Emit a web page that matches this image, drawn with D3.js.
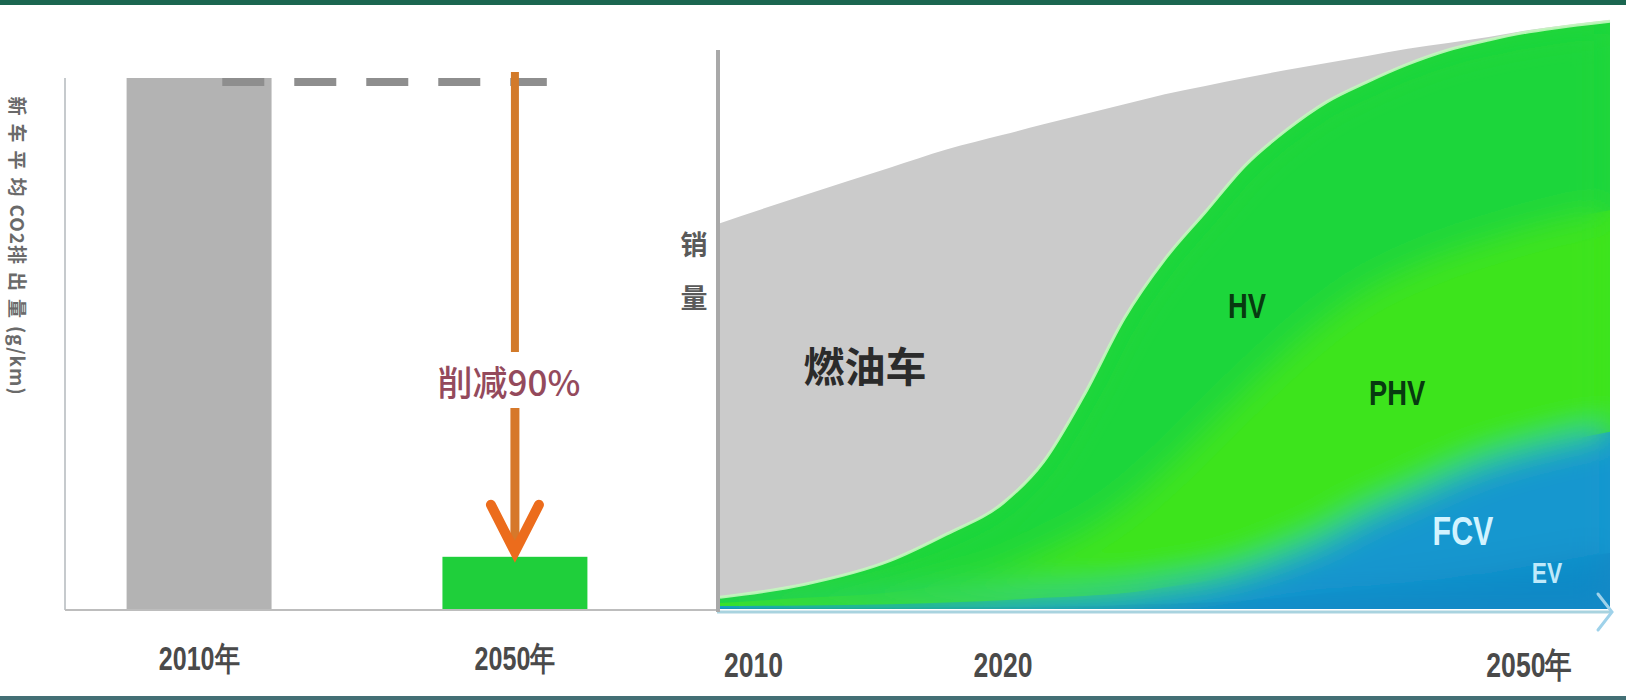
<!DOCTYPE html>
<html><head><meta charset="utf-8">
<script src="https://cdn.jsdelivr.net/npm/d3@7"></script>
<style>body{margin:0;background:#fff;} svg{display:block}</style>
</head><body><svg id="c" width="1626" height="700"></svg>
<script>
// ---------- data ----------
const barCategories = ["2010年", "2050年"];
const barValues = [100, 10];
const barColors = ["#b3b3b3", "#1fcf3b"];
const reductionLabel = "削减90%";
const barAxisTitle = "新车平均CO2排出量(g/km)";

const years = [2010,2013,2016,2018,2020,2022,2024,2026,2028,2030,2032,2034,2036,2038,2040,2042,2044,2046,2048,2050];
const evValues  = [0.2,0.2,0.2,0.3,0.3,0.4,0.5,0.7,0.9,1.1,1.5,2.0,2.7,3.4,4.2,5.1,6.1,7.3,8.5,9.5];
const fcvValues = [0.3,0.4,0.6,0.8,1.2,1.5,1.7,2.0,2.8,3.7,5.1,7.2,9.5,12.6,14.8,17.1,18.9,19.7,20.2,20.6];
const phvValues = [0.5,1.3,2.0,3.1,5.1,7.8,10.9,15.0,20.0,25.6,30.6,34.4,37.2,38.2,38.6,38.2,37.6,37.7,37.7,37.6];
const hvValues  = [1.0,2.3,5.4,8.5,11.4,15.3,23.2,31.7,35.7,37.0,38.2,37.7,36.7,35.3,34.9,34.5,34.0,33.3,32.6,32.1];
const iceValues = [63.5,66.1,66.7,65.3,62.5,57.3,47.7,36.3,28.0,21.4,14.8,10.2,6.6,4.4,2.6,1.2,0.5,0.3,0.2,0.2];
const seriesKeys = ["ev", "fcv", "phv", "hv", "ice"];
const seriesNames = ["EV", "FCV", "PHV", "HV", "燃油车"];
const areaTicks = [2010, 2020, 2050];
const areaTickLabels = ["2010", "2020", "2050年"];
const salesTitle = ["销", "量"];

// ---------- setup ----------
const W = 1626, H = 700;
const svg = d3.select("#c");
const latin = "'Liberation Sans','Arimo',sans-serif";
const cjk = "'Noto Sans CJK SC','Noto Sans',sans-serif";
const squeeze = 0.76;

svg.append("rect").attr("width", W).attr("height", H).attr("fill", "#fff");
svg.append("rect").attr("x", 0).attr("y", 0).attr("width", W).attr("height", 5).attr("fill", "#1b6650");
svg.append("rect").attr("x", 0).attr("y", 696).attr("width", W).attr("height", 4).attr("fill", "#436f75");

const defs = svg.append("defs");
defs.append("filter").attr("id", "soft")
  .attr("x", "-15%").attr("y", "-15%").attr("width", "130%").attr("height", "130%")
  .append("feGaussianBlur").attr("stdDeviation", 17);

// ---------- left bar chart ----------
const xb = d3.scaleBand().domain(barCategories).range([65, 649]).paddingInner(0.541).paddingOuter(0.195);
const yb = d3.scaleLinear().domain([0, 100]).range([610, 78]);

svg.append("line").attr("x1", 65).attr("x2", 65).attr("y1", yb(100)).attr("y2", yb(0))
  .attr("stroke", "#c6cacd").attr("stroke-width", 2);

svg.selectAll("rect.bar").data(barCategories).join("rect").attr("class", "bar")
  .attr("x", d => xb(d)).attr("width", xb.bandwidth())
  .attr("y", (d, i) => yb(barValues[i])).attr("height", (d, i) => yb(0) - yb(barValues[i]))
  .attr("fill", (d, i) => barColors[i]);

svg.append("line").attr("x1", 65).attr("x2", 717).attr("y1", yb(0)).attr("y2", yb(0))
  .attr("stroke", "#bdbdbd").attr("stroke-width", 2);
const gxb = svg.append("g").attr("transform", `translate(0,${yb(0)})`)
  .call(d3.axisBottom(xb).tickSize(0).tickPadding(0));
gxb.select(".domain").remove();
gxb.selectAll("text").attr("y", 60).attr("dy", null)
  .attr("transform", `scale(${squeeze},1)`)
  .attr("font-family", latin).attr("font-weight", "bold").attr("font-size", 33).attr("fill", "#4a4a4a");

// dashed reference line at 2010 level
const bw = xb.bandwidth();
svg.append("line")
  .attr("x1", xb(barCategories[0]) + bw * 0.66).attr("x2", xb(barCategories[1]) + bw * 0.72)
  .attr("y1", yb(barValues[0]) + 4).attr("y2", yb(barValues[0]) + 4)
  .attr("stroke", "#8e8e8e").attr("stroke-width", 8).attr("stroke-dasharray", "42 30");

// reduction arrow
const ax = xb(barCategories[1]) + bw / 2;
const tipY = yb(barValues[1]) - 5;
svg.append("line").attr("x1", ax).attr("x2", ax).attr("y1", yb(barValues[0]) - 6).attr("y2", 352)
  .attr("stroke", "#d27a2a").attr("stroke-width", 8);
svg.append("line").attr("x1", ax).attr("x2", ax).attr("y1", 408).attr("y2", tipY - 4)
  .attr("stroke", "#d6782a").attr("stroke-width", 9);
svg.append("path")
  .attr("d", `M${ax - 24},${tipY - 47} L${ax},${tipY} L${ax + 24},${tipY - 47}`)
  .attr("fill", "none").attr("stroke", "#ec6c1c").attr("stroke-width", 10)
  .attr("stroke-linecap", "round").attr("stroke-linejoin", "miter");
svg.append("text").attr("x", ax - 6).attr("y", 396).attr("text-anchor", "middle")
  .attr("font-family", cjk).attr("font-size", 35).attr("font-weight", 500)
  .attr("fill", "#944a5c").text(reductionLabel);

// y-axis title (rotated, reads top to bottom)
const titleParts = barAxisTitle.split(/([A-Za-z0-9()\/]+)/).filter(s => s.length);
const tTitle = svg.append("text").attr("transform", "translate(19,246) rotate(90)")
  .attr("text-anchor", "middle").attr("dominant-baseline", "central")
  .attr("font-family", cjk).attr("font-size", 19).attr("font-weight", "bold").attr("fill", "#6a6a6a");
titleParts.forEach(p => {
  const latinPart = /^[A-Za-z0-9()\/]+$/.test(p);
  tTitle.append("tspan").attr("letter-spacing", latinPart ? 1 : 8).text(p);
});

// ---------- right stacked area chart ----------
const xa = d3.scaleLinear().domain([2010, 2020, 2050]).range([720, 1003, 1610]);
const ya = d3.scaleLinear().domain([0, 100]).range([609, 20]);

const table = years.map((yr, i) => ({
  year: yr, ev: evValues[i], fcv: fcvValues[i], phv: phvValues[i], hv: hvValues[i], ice: iceValues[i]
}));
const stacked = d3.stack().keys(seriesKeys)(table);
const curve = d3.curveMonotoneX;

const cumArea = d3.area().curve(curve)
  .x(d => xa(d.data.year)).y0(ya(0)).y1(d => ya(d[1]));

svg.append("path").datum(stacked[4]).attr("d", cumArea).attr("fill", "#cbcbcb");

defs.append("clipPath").attr("id", "greenClip")
  .append("path").datum(stacked[3]).attr("d", cumArea);

const gGreen = svg.append("g").attr("clip-path", "url(#greenClip)");
const layerColors = { hv: "#1ed63b", phv: "#3de41a", fcv: "#1597cf", ev: "#1089c6" };
function drawLayers(g) {
  [3, 2, 1, 0].forEach(k => {
    g.append("path").datum(stacked[k]).attr("d", cumArea).attr("fill", layerColors[seriesKeys[k]]);
  });
}
drawLayers(gGreen.append("g"));
drawLayers(gGreen.append("g").attr("filter", "url(#soft)"));

svg.append("path").datum(stacked[3])
  .attr("d", d3.line().curve(curve).x(d => xa(d.data.year)).y(d => ya(d[1])))
  .attr("fill", "none").attr("stroke", "#c4f7bf").attr("stroke-width", 3).attr("opacity", 0.9);

// axes of right chart
svg.append("line").attr("x1", 717).attr("x2", xa(2050) + 2).attr("y1", 612).attr("y2", 612)
  .attr("stroke", "#a9d3df").attr("stroke-width", 3);
svg.append("path")
  .attr("d", `M${xa(2050) - 12},594 L${xa(2050) + 2},612 L${xa(2050) - 12},630`)
  .attr("fill", "none").attr("stroke", "#9fd2ea").attr("stroke-width", 3).attr("stroke-linecap", "round");
svg.append("line").attr("x1", 718).attr("x2", 718).attr("y1", 50).attr("y2", 612)
  .attr("stroke", "#a9a9a9").attr("stroke-width", 4);

// x tick labels
const anchors = ["start", "middle", "end"];
const offsets = [4, 0, -38];
svg.selectAll("text.xt").data(areaTicks).join("text").attr("class", "xt")
  .attr("transform", (d, i) => `translate(${xa(d) + offsets[i]},677) scale(${squeeze},1)`)
  .attr("text-anchor", (d, i) => anchors[i])
  .attr("font-family", latin).attr("font-weight", "bold").attr("font-size", 35).attr("fill", "#4a4a4a")
  .text((d, i) => areaTickLabels[i]);

// y title 销 量
svg.selectAll("text.yt").data(salesTitle).join("text").attr("class", "yt")
  .attr("x", 694).attr("y", (d, i) => 255 + i * 53).attr("text-anchor", "middle")
  .attr("font-family", cjk).attr("font-size", 27).attr("font-weight", "bold").attr("fill", "#5a5a5a")
  .text(d => d);

// series labels
const labelSpec = [
  { name: seriesNames[4], x: 865, y: 382, size: 41, color: "#2b2b2b", font: cjk, sx: 1 },
  { name: seriesNames[3], x: 1247, y: 318, size: 36, color: "#073a10", font: latin, sx: squeeze },
  { name: seriesNames[2], x: 1397, y: 405, size: 36, color: "#073a10", font: latin, sx: squeeze },
  { name: seriesNames[1], x: 1463, y: 545, size: 40, color: "#d2f3ff", font: latin, sx: squeeze },
  { name: seriesNames[0], x: 1547, y: 583, size: 30, color: "#bfe9fa", font: latin, sx: squeeze }
];
svg.selectAll("text.sl").data(labelSpec).join("text").attr("class", "sl")
  .attr("transform", d => `translate(${d.x},${d.y}) scale(${d.sx},1)`)
  .attr("text-anchor", "middle")
  .attr("font-family", d => d.font).attr("font-weight", "bold").attr("font-size", d => d.size)
  .attr("fill", d => d.color).text(d => d.name);
</script>
</body></html>
